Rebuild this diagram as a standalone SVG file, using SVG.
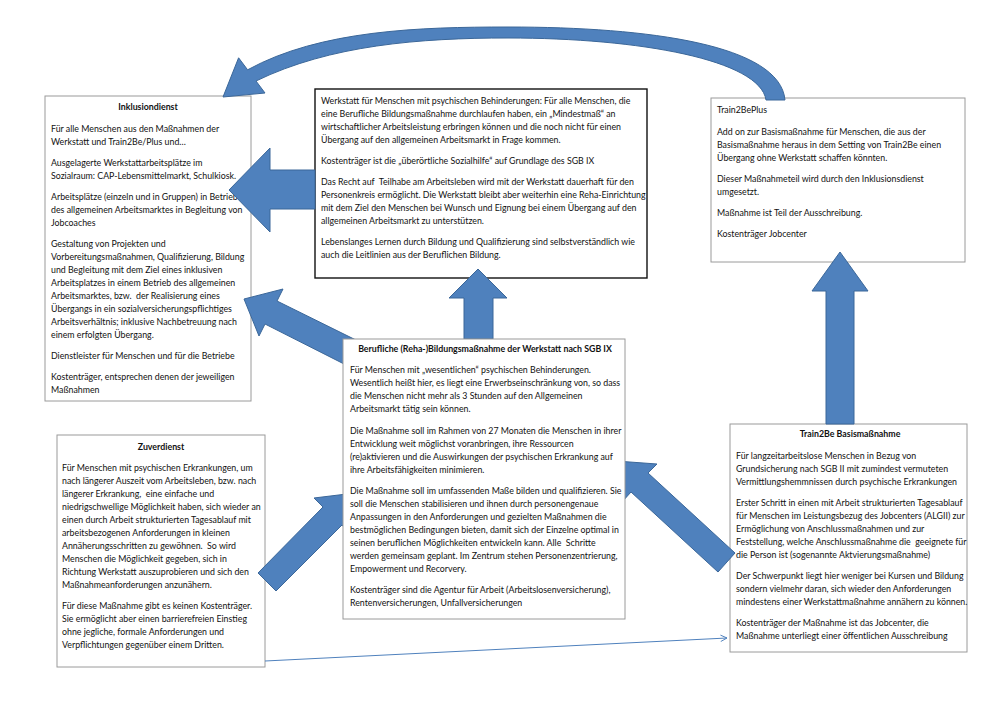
<svg xmlns="http://www.w3.org/2000/svg" width="1000" height="707" viewBox="0 0 1000 707">
<defs>
<style>
.box{fill:#fff;stroke:#9a9a9a;stroke-width:1}
.boxk{fill:#fff;stroke:#111;stroke-width:1.4}
.t{font-family:Lato,"Liberation Sans",sans-serif;font-size:8.8px;fill:#111;white-space:pre}
.h{font-weight:bold;text-anchor:middle}
.arr{fill:#4F81BD;stroke:#3B6799;stroke-width:1}
.thin{fill:none;stroke:#4F81BD;stroke-width:1}
</style>
<marker id="open" viewBox="0 0 10 10" refX="9" refY="5" markerWidth="8" markerHeight="8" orient="auto" markerUnits="userSpaceOnUse">
<path d="M1,1 L9,5 L1,9" fill="none" stroke="#4F81BD" stroke-width="1.2"/>
</marker>
</defs>
<rect width="1000" height="707" fill="#fff"/>

<g id="inklusionsdienst">
<rect class="box" x="45" y="96" width="206" height="305"/>
<text class="t h" x="148" y="109.5">Inklusiondienst</text>
<text class="t" x="51" y="131.5">Für alle Menschen aus den Maßnahmen der</text>
<text class="t" x="51" y="144.5">Werkstatt und Train2Be/Plus und…</text>
<text class="t" x="51" y="165.5">Ausgelagerte Werkstattarbeitsplätze im</text>
<text class="t" x="51" y="178.5">Sozialraum: CAP-Lebensmittelmarkt, Schulkiosk.</text>
<text class="t" x="51" y="199.5">Arbeitsplätze (einzeln und in Gruppen) in Betrieben</text>
<text class="t" x="51" y="212.5">des allgemeinen Arbeitsmarktes in Begleitung von</text>
<text class="t" x="51" y="225.5">Jobcoaches</text>
<text class="t" x="51" y="246.5">Gestaltung von Projekten und</text>
<text class="t" x="51" y="259.5">Vorbereitungsmaßnahmen, Qualifizierung, Bildung</text>
<text class="t" x="51" y="272.5">und Begleitung mit dem Ziel eines inklusiven</text>
<text class="t" x="51" y="285.5">Arbeitsplatzes in einem Betrieb des allgemeinen</text>
<text class="t" x="51" y="298.5">Arbeitsmarktes, bzw.  der Realisierung eines</text>
<text class="t" x="51" y="311.5">Übergangs in ein sozialversicherungspflichtiges</text>
<text class="t" x="51" y="324.5">Arbeitsverhältnis; inklusive Nachbetreuung nach</text>
<text class="t" x="51" y="337.5">einem erfolgten Übergang.</text>
<text class="t" x="51" y="358.5">Dienstleister für Menschen und für die Betriebe</text>
<text class="t" x="51" y="379.5">Kostenträger, entsprechen denen der jeweiligen</text>
<text class="t" x="51" y="392.5">Maßnahmen</text>
</g>

<g id="werkstatt">
<rect class="boxk" x="315" y="89" width="332" height="189"/>
<text class="t" x="321" y="103.5">Werkstatt für Menschen mit psychischen Behinderungen: Für alle Menschen, die</text>
<text class="t" x="321" y="116.5">eine Berufliche Bildungsmaßnahme durchlaufen haben, ein „Mindestmaß“ an</text>
<text class="t" x="321" y="129.5">wirtschaftlicher Arbeitsleistung erbringen können und die noch nicht für einen</text>
<text class="t" x="321" y="142.5">Übergang auf den allgemeinen Arbeitsmarkt in Frage kommen.</text>
<text class="t" x="321" y="163.5">Kostenträger ist die „überörtliche Sozialhilfe“ auf Grundlage des SGB IX</text>
<text class="t" x="321" y="184.5">Das Recht auf  Teilhabe am Arbeitsleben wird mit der Werkstatt dauerhaft für den</text>
<text class="t" x="321" y="197.5">Personenkreis ermöglicht. Die Werkstatt bleibt aber weiterhin eine Reha-Einrichtung</text>
<text class="t" x="321" y="210.5">mit dem Ziel den Menschen bei Wunsch und Eignung bei einem Übergang auf den</text>
<text class="t" x="321" y="223.5">allgemeinen Arbeitsmarkt zu unterstützen.</text>
<text class="t" x="321" y="244.5">Lebenslanges Lernen durch Bildung und Qualifizierung sind selbstverständlich wie</text>
<text class="t" x="321" y="257.5">auch die Leitlinien aus der Beruflichen Bildung.</text>
</g>

<g id="train2beplus">
<rect class="box" x="711" y="98" width="254" height="164"/>
<text class="t" x="717" y="112.5">Train2BePlus</text>
<text class="t" x="717" y="134.5">Add on zur Basismaßnahme für Menschen, die aus der</text>
<text class="t" x="717" y="147.5">Basismaßnahme heraus in dem Setting von Train2Be einen</text>
<text class="t" x="717" y="160.5">Übergang ohne Werkstatt schaffen könnten.</text>
<text class="t" x="717" y="181.5">Dieser Maßnahmeteil wird durch den Inklusionsdienst</text>
<text class="t" x="717" y="194.5">umgesetzt.</text>
<text class="t" x="717" y="215.5">Maßnahme ist Teil der Ausschreibung.</text>
<text class="t" x="717" y="236.5">Kostenträger Jobcenter</text>
</g>

<g id="zuverdienst">
<rect class="box" x="57" y="435" width="208" height="232"/>
<text class="t h" x="161" y="449.5">Zuverdienst</text>
<text class="t" x="62" y="470.5">Für Menschen mit psychischen Erkrankungen, um</text>
<text class="t" x="62" y="483.5">nach längerer Auszeit vom Arbeitsleben, bzw. nach</text>
<text class="t" x="62" y="496.5">längerer Erkrankung,  eine einfache und</text>
<text class="t" x="62" y="509.5">niedrigschwellige Möglichkeit haben, sich wieder an</text>
<text class="t" x="62" y="522.5">einen durch Arbeit strukturierten Tagesablauf mit</text>
<text class="t" x="62" y="535.5">arbeitsbezogenen Anforderungen in kleinen</text>
<text class="t" x="62" y="548.5">Annäherungsschritten zu gewöhnen.  So wird</text>
<text class="t" x="62" y="561.5">Menschen die Möglichkeit gegeben, sich in</text>
<text class="t" x="62" y="574.5">Richtung Werkstatt auszuprobieren und sich den</text>
<text class="t" x="62" y="587.5">Maßnahmeanforderungen anzunähern.</text>
<text class="t" x="62" y="608.5">Für diese Maßnahme gibt es keinen Kostenträger.</text>
<text class="t" x="62" y="621.5">Sie ermöglicht aber einen barrierefreien Einstieg</text>
<text class="t" x="62" y="634.5">ohne jegliche, formale Anforderungen und</text>
<text class="t" x="62" y="647.5">Verpflichtungen gegenüber einem Dritten.</text>
</g>

<g id="train2be-basis">
<rect class="box" x="730" y="424" width="237" height="228"/>
<text class="t h" x="850" y="436.5">Train2Be Basismaßnahme</text>
<text class="t" x="736" y="458.5">Für langzeitarbeitslose Menschen in Bezug von</text>
<text class="t" x="736" y="471.5">Grundsicherung nach SGB II mit zumindest vermuteten</text>
<text class="t" x="736" y="484.5">Vermittlungshemmnissen durch psychische Erkrankungen</text>
<text class="t" x="736" y="505.5">Erster Schritt in einen mit Arbeit strukturierten Tagesablauf</text>
<text class="t" x="736" y="518.5">für Menschen im Leistungsbezug des Jobcenters (ALGII) zur</text>
<text class="t" x="736" y="531.5">Ermöglichung von Anschlussmaßnahmen und zur</text>
<text class="t" x="736" y="544.5">Feststellung, welche Anschlussmaßnahme die  geeignete für</text>
<text class="t" x="736" y="557.5">die Person ist (sogenannte Aktvierungsmaßnahme)</text>
<text class="t" x="736" y="578.5">Der Schwerpunkt liegt hier weniger bei Kursen und Bildung</text>
<text class="t" x="736" y="591.5">sondern vielmehr daran, sich wieder den Anforderungen</text>
<text class="t" x="736" y="604.5">mindestens einer Werkstattmaßnahme annähern zu können.</text>
<text class="t" x="736" y="625.5">Kostenträger der Maßnahme ist das Jobcenter, die</text>
<text class="t" x="736" y="638.5">Maßnahme unterliegt einer öffentlichen Ausschreibung</text>
</g>

<g id="connectors">
<path class="arr" d="M238.6,57.8 L247.6,69.8 C320,30 420,27 508,27 C650,27 780,45 785,100 L766,100 C760,60 640,38 508,38 C420,38 330,45 256,81 L265,93 L223,97 Z"/>
<polygon class="arr" points="315,170 270,170 270,148 229,190 270,232 270,209 315,209"/>
<polygon class="arr" points="464,339 464,298 449,298 478,269 507,298 493,298 493,339"/>
<polygon class="arr" points="826,424 826,291 812,291 840,252 868,291 854,291 854,424"/>
<polygon class="arr" points="362,343 277,301 283,289 244,299 259,336 265,324 350,367"/>
<polygon class="arr" points="258,573 323,507 314,498 355,493 351,535 342,525 276,591"/>
<polygon class="arr" points="735,553 648,473 657,464 616,461 622,502 631,492 718,572"/>
<line class="thin" x1="265" y1="661" x2="727" y2="638" marker-end="url(#open)"/>
</g>

<g id="berufliche">
<rect class="box" x="343" y="339" width="282" height="280"/>
<text class="t h" x="485" y="351.5">Berufliche (Reha-)Bildungsmaßnahme der Werkstatt nach SGB IX</text>
<text class="t" x="350" y="372.5">Für Menschen mit „wesentlichen“ psychischen Behinderungen.</text>
<text class="t" x="350" y="385.5">Wesentlich heißt hier, es liegt eine Erwerbseinschränkung von, so dass</text>
<text class="t" x="350" y="398.5">die Menschen nicht mehr als 3 Stunden auf den Allgemeinen</text>
<text class="t" x="350" y="411.5">Arbeitsmarkt tätig sein können.</text>
<text class="t" x="350" y="433.5">Die Maßnahme soll im Rahmen von 27 Monaten die Menschen in ihrer</text>
<text class="t" x="350" y="446.5">Entwicklung weit möglichst voranbringen, ihre Ressourcen</text>
<text class="t" x="350" y="459.5">(re)aktivieren und die Auswirkungen der psychischen Erkrankung auf</text>
<text class="t" x="350" y="472.5">ihre Arbeitsfähigkeiten minimieren.</text>
<text class="t" x="350" y="493.5">Die Maßnahme soll im umfassenden Maße bilden und qualifizieren. Sie</text>
<text class="t" x="350" y="506.5">soll die Menschen stabilisieren und ihnen durch personengenaue</text>
<text class="t" x="350" y="519.5">Anpassungen in den Anforderungen und gezielten Maßnahmen die</text>
<text class="t" x="350" y="532.5">bestmöglichen Bedingungen bieten, damit sich der Einzelne optimal in</text>
<text class="t" x="350" y="545.5">seinen beruflichen Möglichkeiten entwickeln kann. Alle  Schritte</text>
<text class="t" x="350" y="558.5">werden gemeinsam geplant. Im Zentrum stehen Personenzentrierung,</text>
<text class="t" x="350" y="571.5">Empowerment und Recorvery.</text>
<text class="t" x="350" y="592.5">Kostenträger sind die Agentur für Arbeit (Arbeitslosenversicherung),</text>
<text class="t" x="350" y="605.5">Rentenversicherungen, Unfallversicherungen</text>
</g>
</svg>
